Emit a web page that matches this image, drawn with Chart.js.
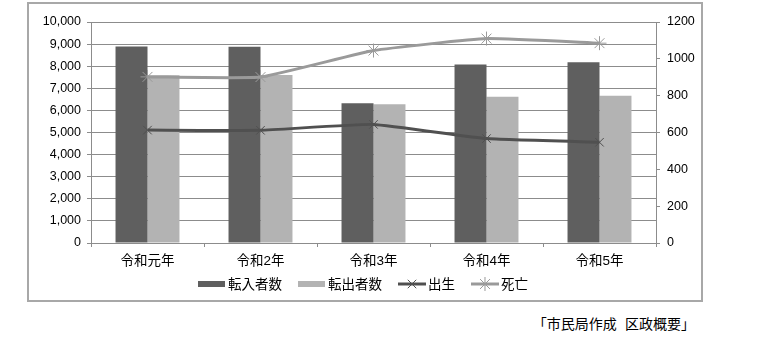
<!DOCTYPE html>
<html lang="ja">
<head>
<meta charset="utf-8">
<title>転入・転出・出生・死亡</title>
<script src="https://cdn.jsdelivr.net/npm/chart.js@4/dist/chart.umd.min.js"></script>
<style>
  body { margin: 0; background: #fff; }
  #frame {
    position: absolute; left: 27px; top: 2px;
    width: 672px; height: 296px;
    border: 2px solid #a8a8a8;
  }
  #source {
    position: absolute; right: 67px; top: 316px;
    font: 14px "Noto Sans CJK JP", sans-serif; line-height: 14px; color: #000;
    white-space: pre; word-spacing: 5px;
  }
</style>
</head>
<body>
<div id="frame"><canvas id="popChart" width="672" height="296"></canvas></div>
<div id="source">「市民局作成 区政概要」</div>
<script>
const years = ['令和元年', '令和2年', '令和3年', '令和4年', '令和5年'];
const movedIn = [8890, 8880, 6320, 8080, 8180];
const movedOut = [7590, 7600, 6280, 6620, 6660];
const births = [613, 612, 644, 567, 547];
const deaths = [902, 901, 1045, 1110, 1085];
const countTicks = {min: 0, max: 10000, step: 1000};
const vitalTicks = {min: 0, max: 1200, step: 200};

const latinFont = '"Liberation Sans", "Noto Sans CJK JP", sans-serif';
const gridGray = '#8c8c8c';

// legend under the axis: bar swatches and line+marker samples
const bottomLegend = {
    id: 'bottomLegend',
    afterDraw(chart) {
        const ctx = chart.ctx;
        ctx.save();
        ctx.font = '13.5px ' + latinFont;
        const gap = 16;
        const items = chart.data.datasets.map(ds => ({ds, w: 30 + ctx.measureText(ds.label).width}));
        const total = items.reduce((s, it) => s + it.w, 0) + gap * (items.length - 1);
        let x = (chart.width - total) / 2 - 2;
        const y = 280;
        items.forEach(({ds, w}) => {
            if (ds.type === 'line') {
                ctx.strokeStyle = ds.borderColor;
                ctx.lineWidth = 3;
                ctx.beginPath();
                ctx.moveTo(x, y);
                ctx.lineTo(x + 28, y);
                ctx.stroke();
                ctx.lineWidth = 1;
                Chart.helpers.drawPoint(ctx, {pointStyle: ds.pointStyle, radius: ds.pointRadius, borderWidth: 1, rotation: 0}, x + 14, y);
            } else {
                ctx.fillStyle = ds.backgroundColor;
                ctx.fillRect(x, y - 3, 27, 6);
            }
            ctx.fillStyle = '#000';
            ctx.textBaseline = 'middle';
            ctx.fillText(ds.label, x + 30, y + 1);
            x += w + gap;
        });
        ctx.restore();
    }
};

new Chart(document.getElementById('popChart'), {
    data: {
        labels: years,
        datasets: [
            {
                type: 'bar', label: '転入者数', data: movedIn, yAxisID: 'y',
                backgroundColor: '#5f5f5f', barPercentage: 1, categoryPercentage: 0.566, order: 2
            },
            {
                type: 'bar', label: '転出者数', data: movedOut, yAxisID: 'y',
                backgroundColor: '#b3b3b3', barPercentage: 1, categoryPercentage: 0.566, order: 2
            },
            {
                type: 'line', label: '出生', data: births, yAxisID: 'y1',
                borderColor: '#505050', borderWidth: 3, tension: 0.12,
                pointStyle: 'crossRot', pointRadius: 6, pointBorderWidth: 1,
                pointBorderColor: '#505050', pointBackgroundColor: '#505050', order: 0
            },
            {
                type: 'line', label: '死亡', data: deaths, yAxisID: 'y1',
                borderColor: '#9a9a9a', borderWidth: 3, tension: 0.12,
                pointStyle: 'star', pointRadius: 7, pointBorderWidth: 1,
                pointBorderColor: '#9a9a9a', pointBackgroundColor: '#9a9a9a', order: 1
            }
        ]
    },
    options: {
        responsive: false,
        animation: false,
        layout: {padding: {top: 18, left: 0, right: 0, bottom: 27}},
        plugins: {legend: {display: false}, tooltip: {enabled: false}},
        scales: {
            x: {
                offset: true,
                grid: {display: true, drawOnChartArea: false, offset: true, tickLength: 4, color: gridGray},
                border: {color: gridGray},
                ticks: {color: '#000', padding: 6, font: {family: latinFont, size: 13.5}},
                afterFit: s => { s.height = 30; }
            },
            y: {
                position: 'left',
                min: countTicks.min, max: countTicks.max,
                grid: {color: gridGray, tickLength: 4},
                border: {color: gridGray},
                ticks: {
                    stepSize: countTicks.step, color: '#000', padding: 6,
                    font: {family: latinFont, size: 12.5},
                    callback: v => v.toLocaleString('en-US')
                },
                afterFit: s => { s.width = 62; }
            },
            y1: {
                position: 'right',
                min: vitalTicks.min, max: vitalTicks.max,
                grid: {drawOnChartArea: false, color: gridGray, tickLength: 4},
                border: {color: gridGray},
                ticks: {
                    stepSize: vitalTicks.step, color: '#000', padding: 7,
                    font: {family: latinFont, size: 12.5},
                    callback: v => String(v)
                },
                afterFit: s => { s.width = 45; }
            }
        }
    },
    plugins: [bottomLegend]
});
</script>
</body>
</html>
